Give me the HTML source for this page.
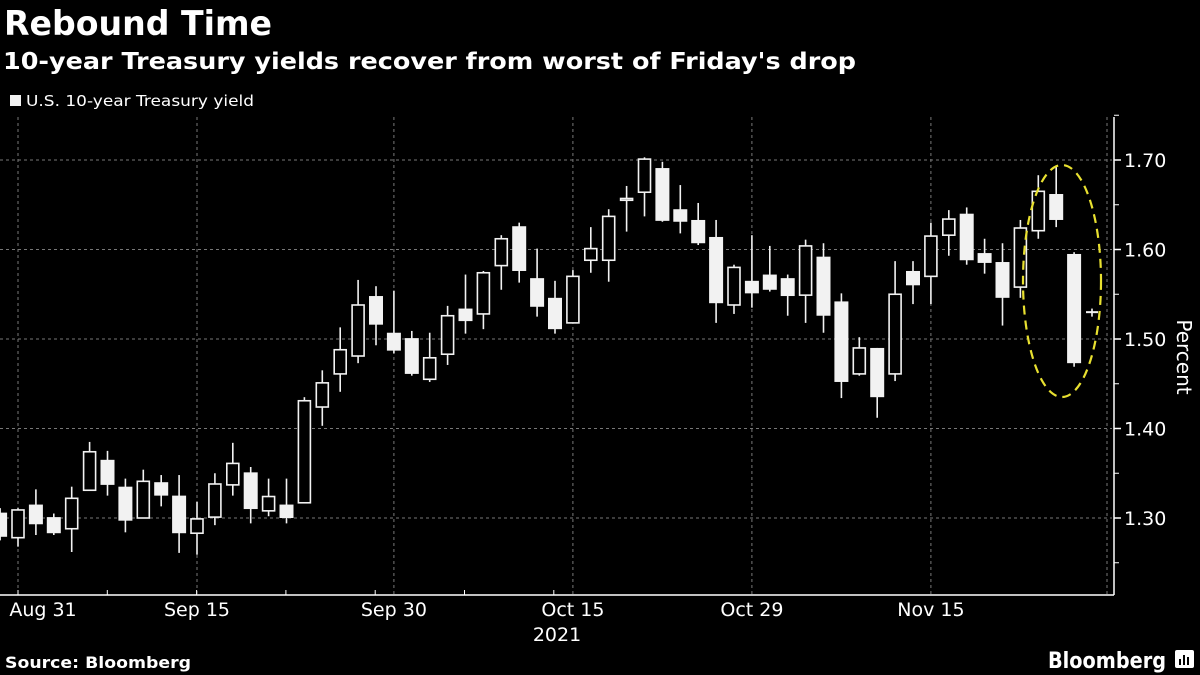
<!DOCTYPE html>
<html><head><meta charset="utf-8"><style>
html,body{margin:0;padding:0;background:#000;width:1200px;height:675px;overflow:hidden}
svg{display:block}
text{font-family:"DejaVu Sans","Liberation Sans",sans-serif;fill:#fff}
</style></head><body>
<svg id="chart" width="1200" height="675" viewBox="0 0 1200 675">
<rect width="1200" height="675" fill="#000"/>
<text x="4" y="35" font-size="34" font-weight="bold" textLength="268" lengthAdjust="spacingAndGlyphs">Rebound Time</text>
<text x="3" y="69" font-size="23" font-weight="bold" textLength="853" lengthAdjust="spacingAndGlyphs">10-year Treasury yields recover from worst of Friday's drop</text>
<rect x="10" y="95" width="11" height="11" fill="#f2f2f2"/>
<text x="26" y="106" font-size="15" textLength="228" lengthAdjust="spacingAndGlyphs">U.S. 10-year Treasury yield</text>
<g id="grid"></g>
<g id="candles"></g>
<g id="axes"></g>
<ellipse cx="1062" cy="281" rx="39" ry="116" fill="none" stroke="#e8e030" stroke-width="2.2" stroke-dasharray="9,6"/>
<text transform="translate(1177,357) rotate(90)" font-size="20" text-anchor="middle">Percent</text>
<text x="5" y="668" font-size="16" font-weight="bold" textLength="186" lengthAdjust="spacingAndGlyphs">Source: Bloomberg</text>
<text x="1048" y="668" font-size="22" font-weight="bold" textLength="118" lengthAdjust="spacingAndGlyphs">Bloomberg</text>
<g><rect x="1175" y="650" width="19" height="18" rx="2" fill="#fff"/><rect x="1179" y="659" width="2" height="6" fill="#000"/><rect x="1183" y="655" width="2" height="10" fill="#000"/><rect x="1187" y="657" width="2" height="8" fill="#000"/></g>
</svg>
<script>
const opens  =[1.306,1.278,1.315,1.301,1.288,1.331,1.365,1.335,1.300,1.340,1.325,1.283,1.301,1.337,1.351,1.308,1.315,1.317,1.424,1.461,1.481,1.548,1.507,1.501,1.455,1.483,1.534,1.528,1.582,1.626,1.568,1.546,1.518,1.588,1.588,1.655,1.664,1.691,1.645,1.633,1.614,1.538,1.565,1.572,1.568,1.549,1.592,1.542,1.461,1.490,1.461,1.576,1.570,1.616,1.640,1.596,1.586,1.558,1.621,1.662,1.595,1.530];
const highs  =[1.311,1.311,1.332,1.305,1.335,1.385,1.375,1.344,1.354,1.348,1.348,1.318,1.350,1.384,1.357,1.344,1.344,1.435,1.465,1.513,1.566,1.559,1.554,1.509,1.507,1.537,1.572,1.576,1.616,1.630,1.601,1.565,1.577,1.625,1.645,1.671,1.703,1.698,1.672,1.652,1.633,1.583,1.616,1.604,1.572,1.611,1.607,1.551,1.502,1.490,1.587,1.587,1.630,1.644,1.647,1.612,1.607,1.633,1.683,1.692,1.597,1.534];
const lows   =[1.275,1.268,1.281,1.281,1.262,1.331,1.325,1.284,1.300,1.313,1.261,1.259,1.292,1.325,1.294,1.302,1.294,1.317,1.403,1.441,1.473,1.493,1.484,1.459,1.452,1.471,1.506,1.511,1.555,1.563,1.525,1.506,1.518,1.574,1.564,1.620,1.637,1.631,1.618,1.605,1.518,1.528,1.535,1.553,1.526,1.518,1.507,1.434,1.459,1.412,1.453,1.539,1.539,1.593,1.583,1.573,1.515,1.546,1.612,1.625,1.469,1.525];
const closes =[1.279,1.309,1.293,1.283,1.322,1.374,1.337,1.297,1.341,1.325,1.283,1.299,1.338,1.361,1.310,1.324,1.300,1.431,1.451,1.488,1.538,1.516,1.487,1.461,1.479,1.526,1.520,1.574,1.612,1.576,1.536,1.511,1.570,1.601,1.637,1.657,1.701,1.632,1.631,1.607,1.540,1.580,1.551,1.555,1.548,1.604,1.526,1.452,1.490,1.435,1.550,1.560,1.615,1.634,1.588,1.585,1.546,1.624,1.665,1.633,1.473,1.530];
const yTicks =[1.30,1.40,1.50,1.60,1.70];
const yTickLabels=["1.30","1.40","1.50","1.60","1.70"];
const xLabelIdx=[1,11,22,32,42,52];
const xLabels=["Aug 31","Sep 15","Sep 30","Oct 15","Oct 29","Nov 15"];

const NS="http://www.w3.org/2000/svg";
function yS(v){return 160+(1.70-v)*895;}
function xS(i){return 0.1+i*17.9;}
function mk(tag,attrs,parent){const e=document.createElementNS(NS,tag);for(const k in attrs)e.setAttribute(k,attrs[k]);parent.appendChild(e);return e;}
const grid=document.getElementById('grid'),cg=document.getElementById('candles'),ax=document.getElementById('axes');
yTicks.forEach((v,i)=>{
  const l=mk('line',{x1:0,x2:1112,y1:yS(v),y2:yS(v),stroke:'#777','stroke-width':1,'stroke-dasharray':'3,3'},grid);
  
  
  const t=mk('line',{x1:1114,x2:1121,y1:yS(v),y2:yS(v),stroke:'#fff','stroke-width':1.5},ax);
  
  
  const tx=mk('text',{x:1124,y:yS(v)+7,'font-size':19},ax);
  tx.textContent=yTickLabels[i];
  
  
});
for(let v=1.25;v<1.76;v+=0.1){
  const t=mk('line',{x1:1114,x2:1119,y1:yS(v),y2:yS(v),stroke:'#fff','stroke-width':1},ax);
  
  
}
xLabelIdx.forEach((idx,i)=>{
  const x=xS(idx);
  const l=mk('line',{x1:x,x2:x,y1:117,y2:595,stroke:'#777','stroke-width':1,'stroke-dasharray':'3,3'},grid);
  
  
  const tx=mk('text',{x:Math.max(x,43),y:616,'font-size':19,'text-anchor':'middle'},ax);
  tx.textContent=xLabels[i];
  
  
});
const gl=mk('line',{x1:1107,x2:1107,y1:117,y2:595,stroke:'#777','stroke-width':1,'stroke-dasharray':'3,3'},grid);


for(let k=0;k<7;k++){
  const x=xS(1)+k*89.3;
  const t=mk('line',{x1:x,x2:x,y1:590,y2:595,stroke:'#fff','stroke-width':1},ax);
  
  
}
const yr=mk('text',{x:557,y:641,'font-size':19,'text-anchor':'middle'},ax);
yr.textContent="2021";


const xa=mk('line',{x1:0,x2:1114,y1:595,y2:595,stroke:'#fff','stroke-width':1.5},ax);


const ya=mk('line',{x1:1114,x2:1114,y1:117,y2:595,stroke:'#fff','stroke-width':1.5},ax);



opens.forEach((o,i)=>{
  const c=closes[i],x=xS(i);
  const g=mk('g',{},cg);
  
  
  mk('line',{x1:x,x2:x,y1:yS(highs[i]),y2:yS(lows[i]),stroke:'#f2f2f2','stroke-width':1.6},g);
  const top=yS(Math.max(o,c)),bot=yS(Math.min(o,c));
  if(Math.abs(o-c)<0.0015){
    mk('line',{x1:x-6,x2:x+6,y1:top,y2:top,stroke:'#f2f2f2','stroke-width':2},g);
  } else if(c<o){
    mk('rect',{x:x-7,y:top,width:14,height:bot-top,fill:'#f2f2f2'},g);
  } else {
    mk('rect',{x:x-6,y:top,width:12,height:bot-top,fill:'#000',stroke:'#f2f2f2','stroke-width':1.6},g);
  }
});
</script>
</body></html>
